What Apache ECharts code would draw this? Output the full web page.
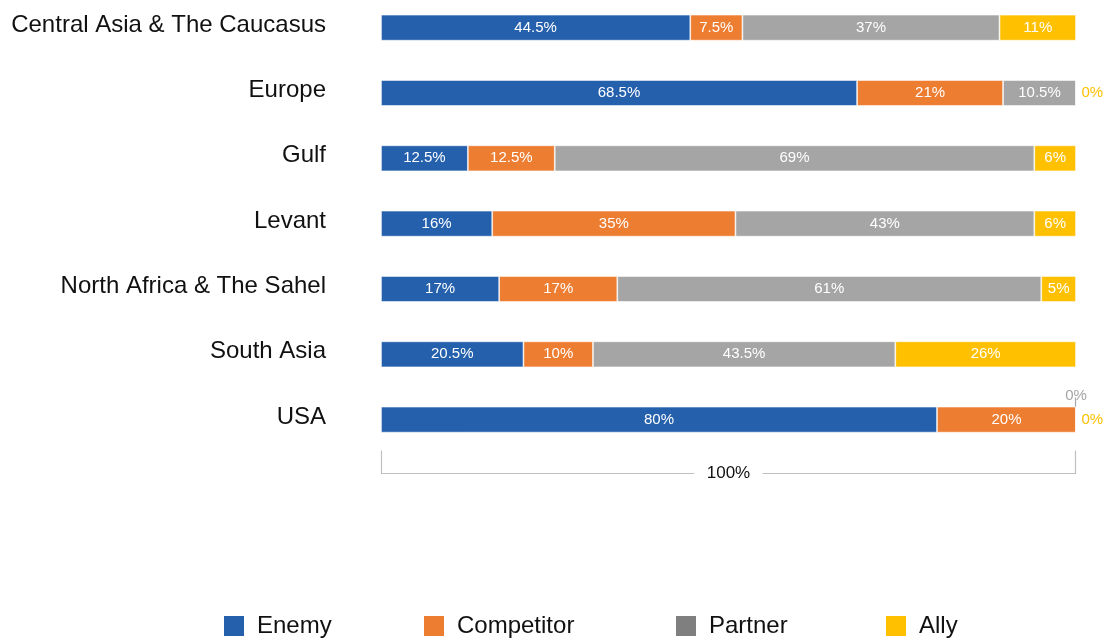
<!DOCTYPE html>
<html>
<head>
<meta charset="utf-8">
<script src="https://cdn.jsdelivr.net/npm/echarts@6/dist/echarts.min.js"></script>
<style>
  html, body { margin: 0; padding: 0; background: #fff; overflow: hidden; }
  /* canvas starts slightly above the viewport so the first row sits close to the top edge */
  #chart { position: absolute; left: 0; top: -5px; width: 1105px; height: 645px; }
</style>
</head>
<body>
<div id="chart"></div>
<script>
// Regions, top to bottom
const regions = [
  'Central Asia & The Caucasus',
  'Europe',
  'Gulf',
  'Levant',
  'North Africa & The Sahel',
  'South Asia',
  'USA'
];

// Share of each perception per region (%)
const enemy      = [44.5, 68.5, 12.5, 16, 17, 20.5, 80];
const competitor = [7.5, 21, 12.5, 35, 17, 10, 20];
const partner    = [37, 10.5, 69, 43, 61, 43.5, 0];
const ally       = [11, 0, 6, 6, 5, 26, 0];

const seriesNames = ['Enemy', 'Competitor', 'Partner', 'Ally'];
const totalLabel = '100%';

const colors = {
  Enemy: '#2560AD',
  Competitor: '#ED7D31',
  Partner: '#A5A5A5',
  Ally: '#FFC000'
};
const legendColors = {
  Enemy: '#2560AD',
  Competitor: '#ED7D31',
  Partner: '#7F7F7F',
  Ally: '#FFC000'
};
// left edge of each legend entry
const legendLeft = { Enemy: 224, Competitor: 424, Partner: 676, Ally: 886 };

const FONT = '"Liberation Sans", Arial, sans-serif';

// Zero-width segments get their label outside the bar
function seriesData(values, name) {
  return values.map(v => {
    if (v !== 0) return v;
    if (name === 'Ally') {
      return { value: v, label: { position: 'right', distance: 5, color: colors.Ally } };
    }
    return { value: v, label: { position: 'top', distance: 3, color: colors[name] } };
  });
}

function makeSeries(name, values) {
  return {
    name: name,
    type: 'bar',
    stack: 'total',
    barWidth: 26,
    data: seriesData(values, name),
    itemStyle: {
      color: colors[name],
      borderColor: 'rgba(255,255,255,0.7)',
      borderWidth: 0.8
    },
    label: {
      show: true,
      position: 'inside',
      color: '#fff',
      fontFamily: FONT,
      fontSize: 15,
      formatter: p => p.value + '%'
    },
    emphasis: { disabled: true },
    animation: false
  };
}

const chart = echarts.init(document.getElementById('chart'), null, { renderer: 'canvas' });

const option = {
  backgroundColor: '#fff',
  animation: false,
  grid: { left: 381, right: 29, top: 0, bottom: 187.7, containLabel: false },
  xAxis: {
    type: 'value',
    min: 0,
    max: 100,
    show: false
  },
  yAxis: {
    type: 'category',
    data: regions,
    inverse: true,
    axisLine: { show: false },
    axisTick: { show: false },
    splitLine: { show: false },
    axisLabel: {
      margin: 55,
      color: '#111',
      fontFamily: FONT,
      fontSize: 24,
      verticalAlign: 'bottom',
      lineHeight: 5
    }
  },
  legend: seriesNames.map(n => ({
    left: legendLeft[n],
    top: 619,
    padding: 0,
    itemWidth: 20,
    itemHeight: 20,
    icon: 'rect',
    selectedMode: false,
    textStyle: {
      fontFamily: FONT,
      fontSize: 24,
      color: '#111',
      padding: [0, 0, 0, 8]
    },
    data: [{ name: n, itemStyle: { color: legendColors[n], borderWidth: 0 } }]
  })),
  series: [
    makeSeries('Enemy', enemy),
    makeSeries('Competitor', competitor),
    makeSeries('Partner', partner),
    makeSeries('Ally', ally)
  ]
};

chart.setOption(option);

// Bracket under the bars spanning the full scale, plus the leader tick for the zero partner share
function drawOverlay() {
  const last = regions[regions.length - 1];
  const pStart = chart.convertToPixel({ gridIndex: 0 }, [0, last]);
  const pEnd = chart.convertToPixel({ gridIndex: 0 }, [100, last]);
  const x0 = Math.round(pStart[0]) + 0.5;
  const x1 = Math.round(pEnd[0]) - 0.5;
  const yLine = Math.round(pEnd[1] + 53) + 0.5;
  const yTop = yLine - 23;
  const xMid = (x0 + x1) / 2;
  const gap = 34;
  const lineStyle = { stroke: '#BFBFBF', lineWidth: 1.2 };

  const g = [
    { type: 'polyline', shape: { points: [[x0, yTop], [x0, yLine], [xMid - gap, yLine]] }, style: lineStyle, silent: true },
    { type: 'polyline', shape: { points: [[xMid + gap, yLine], [x1, yLine], [x1, yTop]] }, style: lineStyle, silent: true },
    {
      type: 'text',
      x: xMid,
      y: yLine,
      style: {
        text: totalLabel,
        fill: '#111',
        font: '17px ' + FONT,
        align: 'center',
        verticalAlign: 'middle'
      },
      silent: true
    }
  ];

  // short leader above the USA bar end
  const usaIdx = regions.length - 1;
  if (partner[usaIdx] === 0) {
    const yBar = pEnd[1];
    g.push({
      type: 'line',
      shape: { x1: x1, y1: yBar - 22, x2: x1, y2: yBar - 5 },
      style: { stroke: '#A5A5A5', lineWidth: 1.2 },
      silent: true
    });
  }

  chart.setOption({ graphic: g });
}

drawOverlay();
</script>
</body>
</html>
